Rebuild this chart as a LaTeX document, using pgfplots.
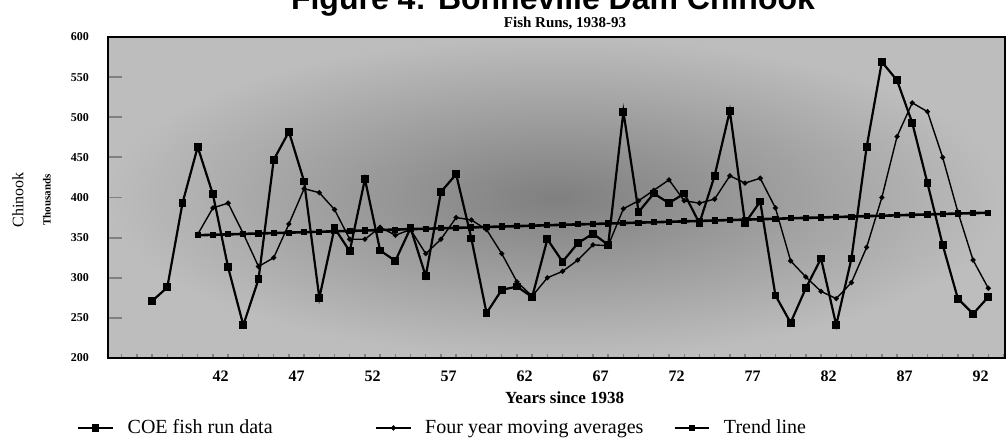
\documentclass[border=0pt]{standalone}
\usepackage{fontspec}
\setmainfont{Liberation Serif}
\newfontfamily\titlefont{Liberation Sans}
\usepackage{pgfplots}
\pgfplotsset{compat=1.18}

\pgfplotstableread{
yr  run
38  271
39  288
40  393
41  463
42  404
43  313
44  241
45  298
46  447
47  482
48  420
49  275
50  362
51  333
52  423
53  334
54  321
55  362
56  302
57  407
58  429
59  349
60  256
61  285
62  289
63  276
64  348
65  320
66  343
67  355
68  341
69  507
70  382
71  405
72  393
73  405
74  368
75  427
76  508
77  368
78  395
79  278
80  244
81  287
82  324
83  241
84  324
85  463
86  569
87  546
88  493
89  418
90  341
91  274
92  255
93  276
}\coedata

\pgfplotstableread{
yr  avg
41  354
42  387
43  393
44  355
45  314
46  325
47  367
48  411
49  406
50  385
51  348
52  348
53  363
54  353
55  360
56  330
57  348
58  375
59  372
60  360
61  330
62  295
63  277
64  300
65  308
66  322
67  341
68  340
69  386
70  396
71  409
72  422
73  396
74  393
75  398
76  427
77  418
78  424
79  387
80  321
81  301
82  283
83  274
84  294
85  338
86  400
87  476
88  518
89  507
90  450
91  382
92  322
93  287
}\movavg

\pgfplotstableread{
yr  trend
41  353.0
42  353.5
43  354.1
44  354.6
45  355.2
46  355.7
47  356.2
48  356.8
49  357.3
50  357.9
51  358.4
52  358.9
53  359.5
54  360.0
55  360.6
56  361.1
57  361.6
58  362.2
59  362.7
60  363.3
61  363.8
62  364.3
63  364.9
64  365.4
65  366.0
66  366.5
67  367.0
68  367.6
69  368.1
70  368.7
71  369.2
72  369.7
73  370.3
74  370.8
75  371.4
76  371.9
77  372.4
78  373.0
79  373.5
80  374.1
81  374.6
82  375.1
83  375.7
84  376.2
85  376.8
86  377.3
87  377.8
88  378.4
89  378.9
90  379.5
91  380.0
92  380.5
93  381.1
}\trendln

\begin{document}
\begin{tikzpicture}
\begin{axis}[
  width=448.5pt, height=160.5pt, scale only axis,
  xmin=35.1, xmax=94.1, ymin=200, ymax=600,
  axis background/.style={shading=radial, inner color=black!50, outer color=black!26},
  axis line style={line width=1pt},
  tick pos=left, tick align=inside,
  major tick length=7pt, minor tick length=2pt,
  major x tick style={draw=none},
  minor x tick style={line width=0.7pt},
  major y tick style={line width=0.9pt},
  xtick={42.5,47.5,...,92.5},
  xticklabels={42,47,52,57,62,67,72,77,82,87,92},
  minor xtick={36,...,94},
  ytick={200,250,...,600},
  /pgf/number format/assume math mode=true,
  xticklabel style={font=\bfseries\fontsize{8}{9}\selectfont, yshift=-3pt},
  yticklabel style={font=\bfseries\fontsize{6}{7}\selectfont, xshift=-6pt},
  xlabel={Years since 1938},
  xlabel style={font=\bfseries\fontsize{8.5}{10}\selectfont,
    at={(axis description cs:0.509,-0.125)}, anchor=center},
  legend columns=3,
  legend style={at={(-0.0346,-0.218)}, anchor=west, draw=none, fill=none,
    inner sep=0pt, font=\fontsize{10}{11}\selectfont, cells={anchor=west}},
]
\addplot[black, line width=1.1pt, mark=square*, mark size=1.4pt] table[x=yr, y=run] {\coedata};
\addlegendentry{\hspace{5pt}\makebox[122pt][l]{COE fish run data}}
\addplot[black, line width=0.7pt, mark=*, mark size=0.9pt] table[x=yr, y=avg] {\movavg};
\addlegendentry{\hspace{5pt}\makebox[122pt][l]{Four year moving averages}}
\addplot[black, line width=1.3pt, mark=square*, mark size=0.9pt] table[x=yr, y=trend] {\trendln};
\addlegendentry{\hspace{5pt}Trend line}
\end{axis}
\node[anchor=base, inner sep=0pt, font=\titlefont\bfseries\fontsize{16}{18}\selectfont] at (222.5pt,174.5pt) {Figure 4: Bonneville Dam Chinook};
\node[anchor=base, inner sep=0pt, font=\bfseries\fontsize{7.5}{9}\selectfont] at (228.5pt,165.5pt) {Fish Runs, 1938-93};
\node[rotate=90, font=\fontsize{8}{9}\selectfont] at (-45pt,79pt) {Chinook};
\node[rotate=90, font=\bfseries\fontsize{5.5}{6}\selectfont] at (-30.5pt,79pt) {Thousands};
\pgfresetboundingbox
\useasboundingbox (-54pt,-41.5pt) rectangle (450pt,179pt);
\end{tikzpicture}
\end{document}
